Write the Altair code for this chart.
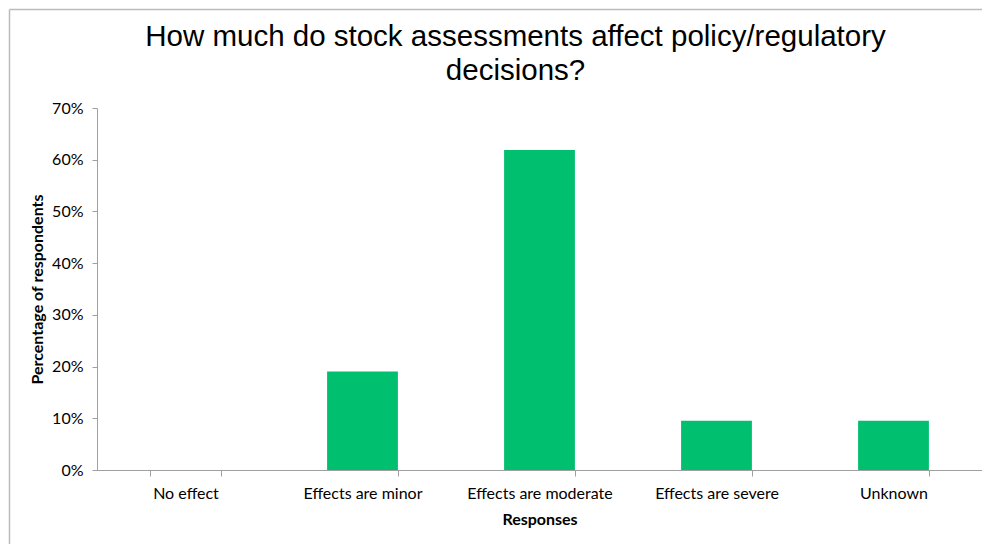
import altair as alt
import pandas as pd

categories = ["No effect", "Effects are minor", "Effects are moderate", "Effects are severe", "Unknown"]
values = [0.0, 0.1905, 0.619, 0.0952, 0.0952]
y_ticks = [0, 0.1, 0.2, 0.3, 0.4, 0.5, 0.6, 0.7]

df = pd.DataFrame({"Response": categories, "Share": values})
frame_df = pd.DataFrame({"k": [0]})

W, H = 885, 362
LEFT, TOP = 89, 100
AXIS_GRAY = "#A0A0A0"
FRAME_GRAY = "#BBBBBB"
FONT = "Lato"

bars = alt.Chart(df).mark_bar(color="#00BF6F").encode(
    x=alt.X(
        "Response:N",
        sort=categories,
        title="Responses",
        scale=alt.Scale(paddingInner=0.6, paddingOuter=0.3),
        axis=alt.Axis(
            labelAngle=0,
            tickBand="extent",
            domainColor=AXIS_GRAY,
            tickColor=AXIS_GRAY,
            tickSize=6,
            labelFont=FONT,
            labelFontSize=16,
            labelColor="#000000",
            labelPadding=9,
            titleFont=FONT,
            titleFontSize=16,
            titleFontWeight="bold",
            titleColor="#000000",
            titlePadding=10,
        ),
    ),
    y=alt.Y(
        "Share:Q",
        title="Percentage of respondents",
        scale=alt.Scale(domain=[0, 0.7], nice=False),
        axis=alt.Axis(
            values=y_ticks,
            format=".0%",
            grid=False,
            domainColor=AXIS_GRAY,
            tickColor=AXIS_GRAY,
            tickSize=5,
            labelFont=FONT,
            labelFontSize=16,
            labelColor="#000000",
            labelPadding=9,
            titleFont=FONT,
            titleFontSize=16,
            titleFontWeight="bold",
            titleColor="#000000",
            titlePadding=6,
        ),
    ),
)

frame_top = alt.Chart(frame_df).mark_rule(
    color=FRAME_GRAY, strokeWidth=1.5, clip=False
).encode(x=alt.value(-87.5), x2=alt.value(1000), y=alt.value(-98.5))

frame_left = alt.Chart(frame_df).mark_rule(
    color=FRAME_GRAY, strokeWidth=1.5, clip=False
).encode(x=alt.value(-87.5), y=alt.value(-98.5), y2=alt.value(460))

chart = alt.layer(frame_top, frame_left, bars).properties(
    width=W,
    height=H,
    background="white",
    autosize=alt.AutoSizeParams(type="none"),
    padding={"left": LEFT, "top": TOP, "right": 0, "bottom": 74},
    title=alt.TitleParams(
        text=["How much do stock assessments affect policy/regulatory", "decisions?"],
        font="Liberation Sans",
        fontSize=29.5,
        fontWeight="normal",
        color="#000000",
        anchor="middle",
        frame="group",
        dx=-24,
        offset=-78,
        lineHeight=34,
    ),
).configure_view(strokeWidth=0)

chart.save("out.html", embed_options={"renderer": "svg", "actions": False})
